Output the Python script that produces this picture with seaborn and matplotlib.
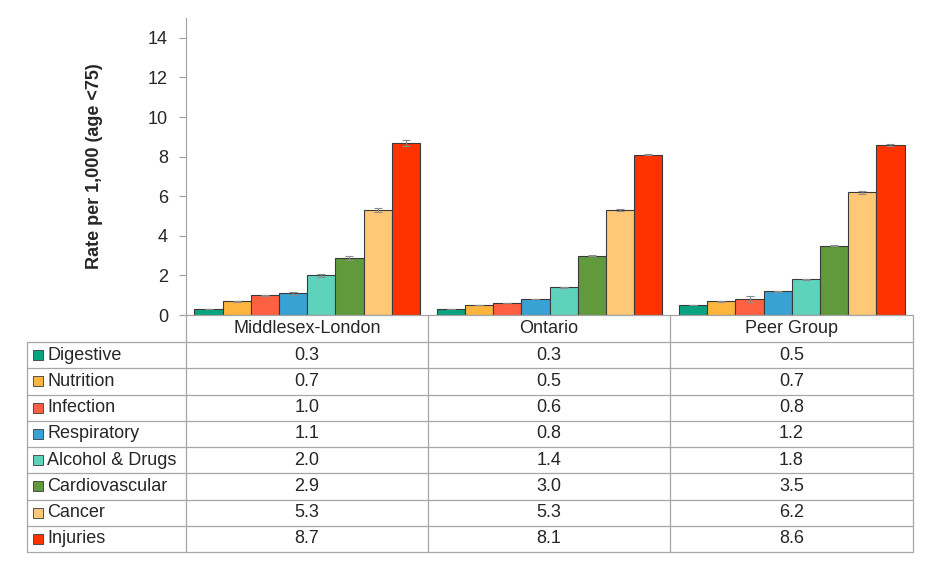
#!/usr/bin/env python3
"""Premature mortality rates by cause, with data table underneath."""

import numpy as np
import pandas as pd
import matplotlib
matplotlib.use('Agg')
import matplotlib.pyplot as plt
from matplotlib.lines import Line2D
from matplotlib.patches import Rectangle
import seaborn as sns

regions = ['Middlesex-London', 'Ontario', 'Peer Group']
causes = ['Digestive', 'Nutrition', 'Infection', 'Respiratory',
          'Alcohol & Drugs', 'Cardiovascular', 'Cancer', 'Injuries']
colors = ['#0aa37f', '#fdb53e', '#ff6041', '#39a2d4',
          '#5ed3bc', '#619a3c', '#fec877', '#ff3300']

middlesex = [0.3, 0.7, 1.0, 1.1, 2.0, 2.9, 5.3, 8.7]
ontario = [0.3, 0.5, 0.6, 0.8, 1.4, 3.0, 5.3, 8.1]
peer = [0.5, 0.7, 0.8, 1.2, 1.8, 3.5, 6.2, 8.6]

# error bar half widths
middlesex_err = [0.02, 0.02, 0.03, 0.07, 0.08, 0.1, 0.1, 0.15]
ontario_err = [0.01, 0.01, 0.01, 0.01, 0.02, 0.02, 0.03, 0.03]
peer_err = [0.02, 0.02, 0.15, 0.03, 0.03, 0.04, 0.07, 0.06]

W, H = 930, 561
FS = 13


def fx(px):
    return px / W


def fy(py):
    return 1 - py / H


def main():
    sns.set_style('white')
    plt.rcParams['font.family'] = ['Liberation Sans', 'DejaVu Sans']

    rows = []
    for reg, vals, errs in zip(regions, [middlesex, ontario, peer],
                               [middlesex_err, ontario_err, peer_err]):
        for c, v, e in zip(causes, vals, errs):
            rows.append({'region': reg, 'cause': c, 'rate': v, 'err': e})
    df = pd.DataFrame(rows)

    fig = plt.figure(figsize=(W / 100, H / 100), dpi=100)
    left, right, top, bottom = 186, 913, 18, 315
    ax = fig.add_axes([fx(left), fy(bottom), fx(right - left), (bottom - top) / H])

    sns.barplot(data=df, x='region', y='rate', hue='cause', hue_order=causes,
                palette=colors, saturation=1, width=0.93, errorbar=None, ax=ax,
                edgecolor='#3a3a3a', linewidth=0.8, legend=False)

    # error bars on each bar
    for patch_list, c in zip(ax.containers, causes):
        sub = df[df['cause'] == c]
        for bar, (_, r) in zip(patch_list, sub.iterrows()):
            xc = bar.get_x() + bar.get_width() / 2
            ax.errorbar(xc, r['rate'], yerr=r['err'], fmt='none',
                        ecolor='#8c8c8c', elinewidth=0.8, capsize=3, capthick=0.8)

    ax.set_xlim(-0.5, 2.5)
    ax.set_ylim(0, 15)
    ax.set_yticks(range(0, 15, 2))
    ax.set_xticks([])
    ax.set_xlabel('')
    ax.set_ylabel('Rate per 1,000 (age <75)', fontsize=FS, fontweight='bold',
                  labelpad=32)
    ax.tick_params(axis='y', labelsize=FS, length=5, color='#a0a0a0',
                   direction='out', left=True, pad=8)
    for s in ['top', 'right', 'bottom']:
        ax.spines[s].set_visible(False)
    ax.spines['left'].set_color('#a0a0a0')

    # data table below the axes
    lc = '#a6a6a6'
    col_x = [186, 428, 670, 913]
    header_top, header_bot = 315, 342
    row_h = (552 - 342) / len(causes)
    table_bot = 552

    def hline(y, x0, x1):
        fig.add_artist(Line2D([fx(x0), fx(x1)], [fy(y), fy(y)], color=lc, lw=0.9))

    def vline(x, y0, y1):
        fig.add_artist(Line2D([fx(x), fx(x)], [fy(y0), fy(y1)], color=lc, lw=0.9))

    hline(header_top, 180, 913)
    for i in range(len(causes) + 1):
        hline(header_bot + i * row_h, 27, 913)
    for x in col_x:
        vline(x, header_top, table_bot)
    vline(27, header_bot, table_bot)

    for j, reg in enumerate(regions):
        cx = (col_x[j] + col_x[j + 1]) / 2
        fig.text(fx(cx), fy((header_top + header_bot) / 2), reg,
                 ha='center', va='center', fontsize=FS)

    all_vals = [middlesex, ontario, peer]
    for i, c in enumerate(causes):
        yc = header_bot + (i + 0.5) * row_h
        fig.add_artist(Rectangle((fx(33), fy(yc + 5)), fx(10), 10 / H,
                                 facecolor=colors[i], edgecolor='#3a3a3a',
                                 lw=0.6))
        fig.text(fx(47), fy(yc), c, ha='left', va='center', fontsize=FS)
        for j in range(len(regions)):
            cx = (col_x[j] + col_x[j + 1]) / 2
            fig.text(fx(cx), fy(yc), f'{all_vals[j][i]:.1f}',
                     ha='center', va='center', fontsize=FS)

    plt.savefig('out.png', dpi=100)
    plt.close()


if __name__ == '__main__':
    main()
